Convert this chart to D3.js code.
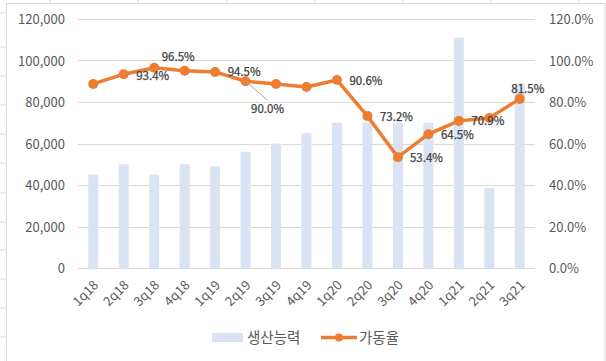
<!DOCTYPE html>
<html>
<head>
<meta charset="utf-8">
<script src="https://cdn.jsdelivr.net/npm/d3@7"></script>
<style>
  body { margin: 0; background: #fff; }
  svg text { font-family: "Noto Sans CJK KR", "Noto Sans", sans-serif; }
</style>
</head>
<body>
<div id="chart"></div>
<script>
// 분기별 데이터
var quarters = ["1q18","2q18","3q18","4q18","1q19","2q19","3q19","4q19","1q20","2q20","3q20","4q20","1q21","2q21","3q21"];
var capacity = [45000, 50000, 45000, 50000, 49000, 56000, 60000, 65000, 70000, 70000, 70000, 70000, 111000, 38500, 89000];
var utilization = [88.7, 93.4, 96.5, 95.1, 94.5, 90.0, 88.7, 87.2, 90.6, 73.2, 53.4, 64.5, 70.9, 72.3, 81.5];
var showLabel = [false, true, true, false, true, true, false, false, true, true, true, true, true, false, true];
var leftTicks = [0, 20000, 40000, 60000, 80000, 100000, 120000];
var rightTicks = [0, 20, 40, 60, 80, 100, 120];

// 라벨 위치 (점 기준 오프셋)
var labelOffsets = {
  1: [29, 2], 2: [24, -11], 4: [29, 0], 5: [22, 28], 8: [29, 1],
  9: [29, 1], 10: [28.5, 1], 11: [29, 1], 12: [29, 0], 14: [8, -10]
};

var width = 606, height = 361;
var plot = { left: 78, right: 535, top: 19, bottom: 268 };

var svg = d3.select("#chart").append("svg")
    .attr("width", width)
    .attr("height", height);

// 시트 배경 격자선
var rowLines = [13, 47, 76, 105, 134, 163, 193, 222, 250, 279, 308, 337];
svg.selectAll(".row").data(rowLines).enter().append("line")
    .attr("x1", 0).attr("x2", 6).attr("y1", d => d).attr("y2", d => d)
    .attr("stroke", "#d9d9d9");
svg.selectAll(".colTop").data([50, 138, 227, 315, 403, 491, 579]).enter().append("line")
    .attr("x1", d => d).attr("x2", d => d).attr("y1", 0).attr("y2", 3)
    .attr("stroke", "#d9d9d9");

// 차트 영역 테두리
svg.append("rect")
    .attr("x", 6.5).attr("y", 3.5)
    .attr("width", 605 - 6.5).attr("height", height)
    .attr("fill", "#fff")
    .attr("stroke", "#d9d9d9");

var x = d3.scaleBand()
    .domain(quarters)
    .range([plot.left, plot.right]);

var yLeft = d3.scaleLinear().domain([0, 120000]).range([plot.bottom, plot.top]);
var yRight = d3.scaleLinear().domain([0, 120]).range([plot.bottom, plot.top]);

// 가로 격자선
svg.selectAll(".grid").data(leftTicks).enter().append("line")
    .attr("x1", plot.left).attr("x2", plot.right)
    .attr("y1", d => Math.round(yLeft(d)) + 0.5)
    .attr("y2", d => Math.round(yLeft(d)) + 0.5)
    .attr("stroke", "#d9d9d9")
    .attr("stroke-width", 1);

// 왼쪽 축
svg.selectAll(".lt").data(leftTicks).enter().append("text")
    .attr("x", 65)
    .attr("y", d => yLeft(d) + 5)
    .attr("text-anchor", "end")
    .attr("font-size", "13px")
    .attr("fill", "#595959")
    .text(d => d3.format(",")(d));

// 오른쪽 축
svg.selectAll(".rt").data(rightTicks).enter().append("text")
    .attr("x", 549)
    .attr("y", d => yRight(d) + 5)
    .attr("text-anchor", "start")
    .attr("font-size", "13px")
    .attr("fill", "#595959")
    .text(d => d.toFixed(1) + "%");

// 막대
var barW = 10;
svg.selectAll(".bar").data(capacity).enter().append("rect")
    .attr("x", (d, i) => x(quarters[i]) + x.bandwidth() / 2 - barW / 2)
    .attr("y", d => yLeft(d))
    .attr("width", barW)
    .attr("height", d => yLeft(0) - yLeft(d))
    .attr("fill", "#dae3f3");

// x축 라벨
svg.selectAll(".xl").data(quarters).enter().append("text")
    .attr("transform", d => "translate(" + (x(d) + x.bandwidth() / 2 + 6) + "," + 286 + ") rotate(-45)")
    .attr("text-anchor", "end")
    .attr("font-size", "13px")
    .attr("fill", "#595959")
    .text(d => d);

// 선
var line = d3.line()
    .x((d, i) => x(quarters[i]) + x.bandwidth() / 2)
    .y(d => yRight(d));

svg.append("path")
    .datum(utilization)
    .attr("d", line)
    .attr("fill", "none")
    .attr("stroke", "#ed7d31")
    .attr("stroke-width", 3.5)
    .attr("stroke-linejoin", "round");

svg.selectAll(".pt").data(utilization).enter().append("circle")
    .attr("cx", (d, i) => x(quarters[i]) + x.bandwidth() / 2)
    .attr("cy", d => yRight(d))
    .attr("r", 5)
    .attr("fill", "#ed7d31");

// 지시선 (90.0%)
var px = x(quarters[5]) + x.bandwidth() / 2, py = yRight(utilization[5]);
svg.append("line")
    .attr("x1", px).attr("y1", py)
    .attr("x2", px + 22).attr("y2", py + 19)
    .attr("stroke", "#a6a6a6")
    .attr("stroke-width", 1);

// 데이터 라벨
utilization.forEach(function(v, i) {
    if (!showLabel[i]) return;
    var off = labelOffsets[i];
    svg.append("text")
        .attr("x", x(quarters[i]) + x.bandwidth() / 2 + off[0])
        .attr("y", yRight(v) + off[1] + 4)
        .attr("text-anchor", "middle")
        .attr("font-size", "11.5px")
        .attr("fill", "#404040")
        .attr("stroke", "#404040")
        .attr("stroke-width", 0.25)
        .text(v.toFixed(1) + "%");
});

// 범례
svg.append("rect")
    .attr("x", 212).attr("y", 333)
    .attr("width", 31).attr("height", 9)
    .attr("fill", "#dae3f3");
svg.append("text")
    .attr("x", 247).attr("y", 343)
    .attr("font-size", "14.5px")
    .attr("fill", "#595959")
    .text("생산능력");

svg.append("line")
    .attr("x1", 321).attr("x2", 357)
    .attr("y1", 337.5).attr("y2", 337.5)
    .attr("stroke", "#ed7d31")
    .attr("stroke-width", 3.5);
svg.append("circle")
    .attr("cx", 339).attr("cy", 337.5).attr("r", 4)
    .attr("fill", "#ed7d31");
svg.append("text")
    .attr("x", 359).attr("y", 343)
    .attr("font-size", "14.5px")
    .attr("fill", "#595959")
    .text("가동율");
</script>
</body>
</html>
